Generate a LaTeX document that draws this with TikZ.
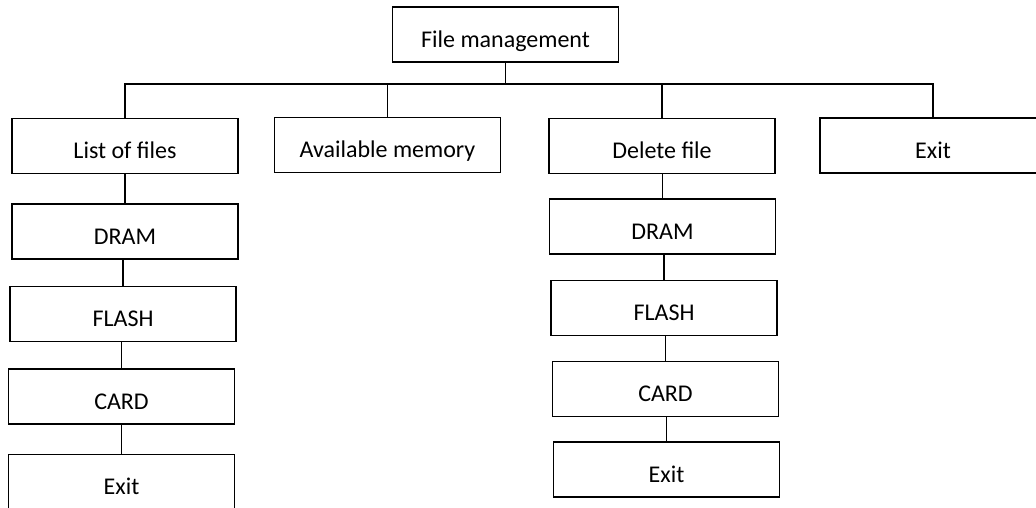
\documentclass[tikz,border=0pt]{standalone}
\usepackage{fontspec}
\setmainfont{Carlito}
\usetikzlibrary{calc}

\begin{document}
\begin{tikzpicture}[x=1pt,y=-1pt,line width=1.4pt,
    box/.style={draw, minimum width=226pt, minimum height=55pt, inner sep=0pt,
      text height=28pt, text depth=3pt, font=\fontsize{24}{28}\selectfont}]
    \useasboundingbox (0,0) rectangle (1036,507);
    \clip (0,0) rectangle (1036,507);
    % top level
    \node[box] (fm) at (505.5,34.5) {File management};
    \node[box] (list) at (125,146) {List of files};
    \node[box] (avail) at (387.5,145) {Available memory};
    \node[box] (del) at (662,146) {Delete file};
    \node[box] (quit) at (933,145.5) {Exit};
    % left column
    \node[box] (dramA) at (125,231.5) {DRAM};
    \node[box] (flashA) at (123,314) {FLASH};
    \node[box] (cardA) at (121.5,396.5) {CARD};
    \node[box] (exitA) at (121.5,482) {Exit};
    % right column
    \node[box] (dramB) at (662.5,226.5) {DRAM};
    \node[box] (flashB) at (664,308) {FLASH};
    \node[box] (cardB) at (665.5,389) {CARD};
    \node[box] (exitB) at (666.5,469.5) {Exit};
    % connectors
    \coordinate (bus) at (0,84);
    \draw (fm.south) -- (fm.south |- bus);
    \draw (list.north) -- (list.north |- bus) -- (quit.north |- bus) -- (quit.north);
    \draw (avail.north |- bus) -- (avail.north);
    \draw[line width=2.6pt] (del.north |- bus) -- (del.north);
    \foreach \a/\b in {list/dramA,dramA/flashA,flashA/cardA,cardA/exitA,
                       del/dramB,dramB/flashB,flashB/cardB,cardB/exitB}
      \draw (\b.north) -- (\b.north |- \a.south);
  \end{tikzpicture}
\end{document}
